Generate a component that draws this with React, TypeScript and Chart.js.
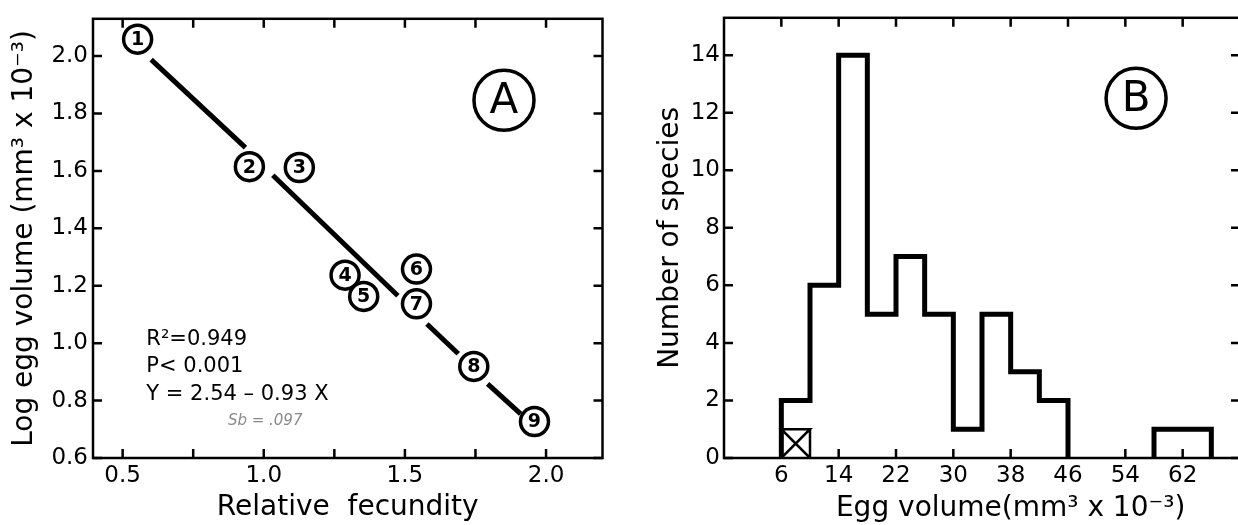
import React, { useEffect, useRef } from "react";
import { Chart, registerables } from "chart.js";

Chart.register(...registerables);

const FONT = "'DejaVu Sans', 'Liberation Sans', sans-serif";

// ---------- Panel A data ----------
const speciesIds = ["1", "2", "3", "4", "5", "6", "7", "8", "9"];
const relativeFecundity = [0.553, 0.949, 1.126, 1.288, 1.354, 1.541, 1.541, 1.744, 1.959];
const logEggVolume = [2.059, 1.615, 1.612, 1.237, 1.163, 1.258, 1.137, 0.919, 0.727];
// regression line (broken around the markers), end points
const fitSegX = [
  [0.601, 0.935],
  [1.032, 1.475],
  [1.578, 1.689],
  [1.793, 1.91],
];
const fitSegY = [
  [1.988, 1.681],
  [1.585, 1.165],
  [1.067, 0.963],
  [0.858, 0.754],
];
const xTicksA = [0.5, 0.75, 1.0, 1.25, 1.5, 1.75, 2.0];
const xLabelsA = [0.5, 1.0, 1.5, 2.0];
const yTicksA = [0.6, 0.8, 1.0, 1.2, 1.4, 1.6, 1.8, 2.0];
const statsLines = ["R²=0.949", "P< 0.001", "Y = 2.54 – 0.93 X"];
const statsX = 0.584;
const statsY = [1.011, 0.918, 0.821];
const noteText = "Sb = .097";
const noteX = 1.005;
const noteY = 0.727;
const panelA = { label: "A", x: 1.851, y: 1.846 };

// ---------- Panel B data ----------
const binStarts = [6, 10, 14, 18, 22, 26, 30, 34, 38, 42, 46, 50, 54, 58, 62];
const speciesCounts = [2, 6, 14, 5, 7, 5, 1, 5, 3, 2, 0, 0, 0, 1, 1];
const BIN_WIDTH = 4;
const crossedStart = 6;
const crossedCount = 1;
const xTicksB = [6, 14, 22, 30, 38, 46, 54, 62];
const yTicksB = [0, 2, 4, 6, 8, 10, 12, 14];
const panelB = { label: "B", x: 55.5, y: 12.5 };

function buildHistogramPath(starts: number[], counts: number[], width: number) {
  const pts: { x: number; y: number | null }[] = [];
  let prev = 0;
  for (let i = 0; i < starts.length; i++) {
    const x0 = starts[i];
    const x1 = x0 + width;
    const c = counts[i];
    if (c > 0) {
      if (prev === 0) pts.push({ x: x0, y: 0 });
      pts.push({ x: x0, y: c }, { x: x1, y: c });
    } else if (prev > 0) {
      pts.push({ x: x0, y: 0 }, { x: x0, y: null });
    }
    prev = c;
  }
  if (prev > 0) pts.push({ x: starts[starts.length - 1] + width, y: 0 });
  return pts;
}

const framePlugin = {
  id: "frame",
  beforeDatasetsDraw(chart: any) {
    const { ctx, chartArea, scales } = chart;
    const { left, right, top, bottom } = chartArea;
    const len = 9;
    ctx.save();
    ctx.strokeStyle = "#000";
    ctx.lineWidth = 2.5;
    ctx.strokeRect(left, top, right - left, bottom - top);
    ctx.beginPath();
    scales.x.ticks.forEach((t: any) => {
      const px = scales.x.getPixelForValue(t.value);
      ctx.moveTo(px, bottom);
      ctx.lineTo(px, bottom - len);
      ctx.moveTo(px, top);
      ctx.lineTo(px, top + len);
    });
    scales.y.ticks.forEach((t: any) => {
      const py = scales.y.getPixelForValue(t.value);
      ctx.moveTo(left, py);
      ctx.lineTo(left + len, py);
      ctx.moveTo(right, py);
      ctx.lineTo(right - len, py);
    });
    ctx.stroke();
    ctx.restore();
  },
};

function panelLabel(chart: any, p: { label: string; x: number; y: number }) {
  const { ctx, scales } = chart;
  const cx = scales.x.getPixelForValue(p.x);
  const cy = scales.y.getPixelForValue(p.y);
  ctx.save();
  ctx.strokeStyle = "#000";
  ctx.lineWidth = 3.5;
  ctx.beginPath();
  ctx.arc(cx, cy, 30, 0, Math.PI * 2);
  ctx.stroke();
  ctx.fillStyle = "#000";
  ctx.font = `42px ${FONT}`;
  ctx.textAlign = "center";
  ctx.textBaseline = "middle";
  ctx.fillText(p.label, cx, cy + 2);
  ctx.restore();
}

const annotPluginA = {
  id: "annotA",
  afterDatasetsDraw(chart: any) {
    const { ctx, scales } = chart;
    const meta = chart.getDatasetMeta(0);
    ctx.save();
    ctx.fillStyle = "#000";
    ctx.font = `bold 19px ${FONT}`;
    ctx.textAlign = "center";
    ctx.textBaseline = "middle";
    meta.data.forEach((el: any, i: number) => {
      ctx.fillText(speciesIds[i], el.x, el.y + 1);
    });
    ctx.font = `21px ${FONT}`;
    ctx.textAlign = "left";
    statsLines.forEach((s, i) => {
      ctx.fillText(s, scales.x.getPixelForValue(statsX), scales.y.getPixelForValue(statsY[i]));
    });
    ctx.fillStyle = "#8a8a8a";
    ctx.font = `italic 15px ${FONT}`;
    ctx.textAlign = "center";
    ctx.fillText(noteText, scales.x.getPixelForValue(noteX), scales.y.getPixelForValue(noteY));
    ctx.restore();
    panelLabel(chart, panelA);
  },
};

const annotPluginB = {
  id: "annotB",
  afterDatasetsDraw(chart: any) {
    const { ctx, scales, chartArea } = chart;
    panelLabel(chart, panelB);
    ctx.save();
    ctx.fillStyle = "#000";
    ctx.font = `28px ${FONT}`;
    ctx.textAlign = "center";
    ctx.textBaseline = "middle";
    const cx = (scales.x.getPixelForValue(xTicksB[0]) + chartArea.right) / 2;
    ctx.fillText("Egg volume(mm³ x 10⁻³)", cx, chartArea.bottom + 51);
    ctx.restore();
  },
};

const tickFont = { family: FONT, size: 23 };
const titleFont = { family: FONT, size: 28 };

function configA(): any {
  const pointData = relativeFecundity.map((x, i) => ({ x, y: logEggVolume[i] }));
  const segDatasets = fitSegX.map((xs, i) => ({
    data: xs.map((x, j) => ({ x, y: fitSegY[i][j] })),
    showLine: true,
    borderColor: "#000",
    borderWidth: 5,
    pointRadius: 0,
    borderCapStyle: "butt",
  }));
  return {
    type: "scatter",
    data: {
      datasets: [
        {
          data: pointData,
          showLine: false,
          pointRadius: 14,
          pointBorderWidth: 3.5,
          pointBackgroundColor: "#fff",
          pointBorderColor: "#000",
        },
        ...segDatasets,
      ],
    },
    options: {
      responsive: false,
      animation: false,
      devicePixelRatio: 1,
      events: [],
      layout: { padding: { top: 15, right: 11, left: 0, bottom: 0 } },
      plugins: { legend: { display: false }, tooltip: { enabled: false } },
      scales: {
        x: {
          type: "linear",
          min: 0.395,
          max: 2.2,
          grid: { display: false, drawTicks: false },
          border: { display: false },
          afterBuildTicks: (axis: any) => {
            axis.ticks = xTicksA.map((v) => ({ value: v }));
          },
          afterFit: (axis: any) => {
            axis.height = 67;
          },
          ticks: {
            autoSkip: false,
            maxRotation: 0,
            padding: 4,
            color: "#000",
            font: tickFont,
            callback: (v: number) => (xLabelsA.includes(v) ? v.toFixed(1) : ""),
          },
          title: {
            display: true,
            text: "Relative  fecundity",
            color: "#000",
            font: titleFont,
            padding: { top: 0, bottom: 0 },
          },
        },
        y: {
          type: "linear",
          min: 0.6,
          max: 2.13,
          grid: { display: false, drawTicks: false },
          border: { display: false },
          afterBuildTicks: (axis: any) => {
            axis.ticks = yTicksA.map((v) => ({ value: v }));
          },
          afterFit: (axis: any) => {
            axis.width = 93;
          },
          ticks: {
            autoSkip: false,
            padding: 5,
            color: "#000",
            font: tickFont,
            callback: (v: number) => v.toFixed(1),
          },
          title: {
            display: true,
            text: "Log egg volume (mm³ x 10⁻³)",
            color: "#000",
            font: titleFont,
            padding: { top: 8, bottom: 0 },
          },
        },
      },
    },
    plugins: [framePlugin, annotPluginA],
  };
}

function configB(): any {
  const hist = buildHistogramPath(binStarts, speciesCounts, BIN_WIDTH);
  const x1 = crossedStart + BIN_WIDTH;
  const crossed = [
    { x: crossedStart, y: 0 },
    { x: x1, y: crossedCount },
    { x: crossedStart, y: crossedCount },
    { x: x1, y: 0 },
    { x: x1, y: crossedCount },
  ];
  return {
    type: "scatter",
    data: {
      datasets: [
        {
          data: hist,
          showLine: true,
          spanGaps: false,
          borderColor: "#000",
          borderWidth: 5,
          pointRadius: 0,
          borderJoinStyle: "miter",
          borderCapStyle: "butt",
        },
        {
          data: crossed,
          showLine: true,
          borderColor: "#000",
          borderWidth: 2.5,
          pointRadius: 0,
          borderJoinStyle: "miter",
        },
      ],
    },
    options: {
      responsive: false,
      animation: false,
      devicePixelRatio: 1,
      events: [],
      layout: { padding: { top: 14, right: 20, left: 0, bottom: 0 } },
      plugins: { legend: { display: false }, tooltip: { enabled: false } },
      scales: {
        x: {
          type: "linear",
          min: -2,
          max: 70,
          grid: { display: false, drawTicks: false },
          border: { display: false },
          afterBuildTicks: (axis: any) => {
            axis.ticks = xTicksB.map((v) => ({ value: v }));
          },
          afterFit: (axis: any) => {
            axis.height = 67;
          },
          ticks: {
            autoSkip: false,
            maxRotation: 0,
            padding: 4,
            color: "#000",
            font: tickFont,
            callback: (v: number) => String(v),
          },
        },
        y: {
          type: "linear",
          min: 0,
          max: 15.3,
          grid: { display: false, drawTicks: false },
          border: { display: false },
          afterBuildTicks: (axis: any) => {
            axis.ticks = yTicksB.map((v) => ({ value: v }));
          },
          afterFit: (axis: any) => {
            axis.width = 104;
          },
          ticks: {
            autoSkip: false,
            padding: 4,
            color: "#000",
            font: tickFont,
            callback: (v: number) => String(v),
          },
          title: {
            display: true,
            text: "Number of species",
            color: "#000",
            font: titleFont,
            padding: { top: 34, bottom: 0 },
          },
        },
      },
    },
    plugins: [framePlugin, annotPluginB],
  };
}

export default function App() {
  const refA = useRef<HTMLCanvasElement>(null);
  const refB = useRef<HTMLCanvasElement>(null);
  useEffect(() => {
    const a = new Chart(refA.current as HTMLCanvasElement, configA());
    const b = new Chart(refB.current as HTMLCanvasElement, configB());
    return () => {
      a.destroy();
      b.destroy();
    };
  }, []);
  return (
    <div
      style={{
        position: "fixed",
        left: 0,
        top: 0,
        width: 1238,
        height: 525,
        overflow: "hidden",
        background: "#fff",
      }}
    >
      <canvas
        ref={refA}
        width={620}
        height={525}
        style={{ position: "absolute", left: 0, top: 0, width: 620, height: 525 }}
      />
      <canvas
        ref={refB}
        width={640}
        height={525}
        style={{ position: "absolute", left: 620, top: 0, width: 640, height: 525 }}
      />
    </div>
  );
}
